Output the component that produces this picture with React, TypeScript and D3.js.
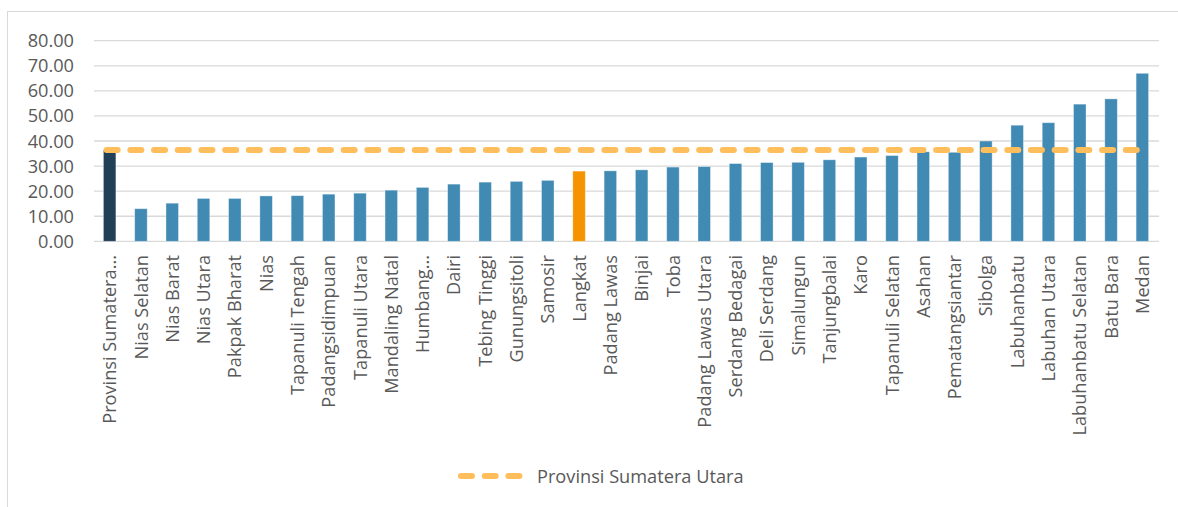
import React from "react";
import * as d3 from "d3";

const categories = [
  "Provinsi Sumatera Utara", "Nias Selatan", "Nias Barat", "Nias Utara", "Pakpak Bharat", "Nias",
  "Tapanuli Tengah", "Padangsidimpuan", "Tapanuli Utara", "Mandaling Natal", "Humbang Hasundutan",
  "Dairi", "Tebing Tinggi", "Gunungsitoli", "Samosir", "Langkat", "Padang Lawas", "Binjai", "Toba",
  "Padang Lawas Utara", "Serdang Bedagai", "Deli Serdang", "Simalungun", "Tanjungbalai", "Karo",
  "Tapanuli Selatan", "Asahan", "Pematangsiantar", "Sibolga", "Labuhanbatu", "Labuhan Utara",
  "Labuhanbatu Selatan", "Batu Bara", "Medan",
];
const displayLabels = [
  "Provinsi Sumatera...", "Nias Selatan", "Nias Barat", "Nias Utara", "Pakpak Bharat", "Nias",
  "Tapanuli Tengah", "Padangsidimpuan", "Tapanuli Utara", "Mandaling Natal", "Humbang...",
  "Dairi", "Tebing Tinggi", "Gunungsitoli", "Samosir", "Langkat", "Padang Lawas", "Binjai", "Toba",
  "Padang Lawas Utara", "Serdang Bedagai", "Deli Serdang", "Simalungun", "Tanjungbalai", "Karo",
  "Tapanuli Selatan", "Asahan", "Pematangsiantar", "Sibolga", "Labuhanbatu", "Labuhan Utara",
  "Labuhanbatu Selatan", "Batu Bara", "Medan",
];
const values = [
  36.4, 13.0, 15.2, 17.1, 17.1, 18.1, 18.2, 18.8, 19.2, 20.4, 21.5,
  22.8, 23.6, 23.9, 24.3, 28.0, 28.1, 28.5, 29.6, 29.8, 31.0, 31.4, 31.5, 32.5, 33.6,
  34.2, 35.7, 35.5, 40.0, 46.3, 47.3, 54.7, 56.8, 67.0,
];
const provinceValue = 36.4;
const yTicks = [0, 10, 20, 30, 40, 50, 60, 70, 80];
const legendLabel = "Provinsi Sumatera Utara";

const W = 1178;
const H = 507;
const FONT = "'Open Sans', sans-serif";
const TEXT = "#595959";
const FS = 18.2;

export default function App() {
  const x = d3.scaleBand<string>().domain(categories).range([94, 1158]).paddingInner(0.6).paddingOuter(0.3);
  const y = d3.scaleLinear().domain([0, 80]).range([241.3, 40.7]);
  const barColor = (c: string) =>
    c === "Provinsi Sumatera Utara" ? "#213F56" : c === "Langkat" ? "#F59400" : "#418AB3";
  const first = categories[0];
  const last = categories[categories.length - 1];
  const cx = (c: string) => (x(c) as number) + x.bandwidth() / 2;
  const line = d3.line<number>().x((d) => d).y(() => y(provinceValue));

  return (
    <svg width={W} height={H} style={{ position: "fixed", left: 0, top: 0, background: "#fff" }}>
      <rect x={7.5} y={11.5} width={W} height={H} fill="#fff" stroke="#D9D9D9" strokeWidth={1} />
      {yTicks.map((t) => (
        <g key={t}>
          <line x1={94} x2={1159} y1={y(t)} y2={y(t)} stroke="#D9D9D9" strokeWidth={1.3} />
          <text x={74} y={y(t)} dy="0.36em" textAnchor="end" fontFamily={FONT} fontSize={FS} fill={TEXT}>
            {t.toFixed(2)}
          </text>
        </g>
      ))}
      {categories.map((c, i) => (
        <rect
          key={c}
          x={x(c)}
          y={y(values[i])}
          width={x.bandwidth()}
          height={y(0) - y(values[i])}
          fill={barColor(c)}
          stroke="rgba(255,255,255,0.45)"
          strokeWidth={0.8}
        />
      ))}
      {categories.map((c, i) => (
        <text
          key={"l" + c}
          transform={`translate(${cx(c)},255) rotate(-90)`}
          dy="0.36em"
          textAnchor="end"
          fontFamily={FONT}
          fontSize={FS}
          fill={TEXT}
        >
          {displayLabels[i]}
        </text>
      ))}
      <path
        d={line([cx(first) - 3, cx(last) + 1]) as string}
        stroke="#FFBE5C"
        strokeWidth={6}
        strokeLinecap="round"
        strokeDasharray="11,12.7"
        fill="none"
      />
      <line x1={461} x2={521} y1={476} y2={476} stroke="#FFBE5C" strokeWidth={6} strokeLinecap="round" strokeDasharray="11,12.7" />
      <text x={537} y={476} dy="0.36em" fontFamily={FONT} fontSize={FS} fill={TEXT}>
        {legendLabel}
      </text>
    </svg>
  );
}
